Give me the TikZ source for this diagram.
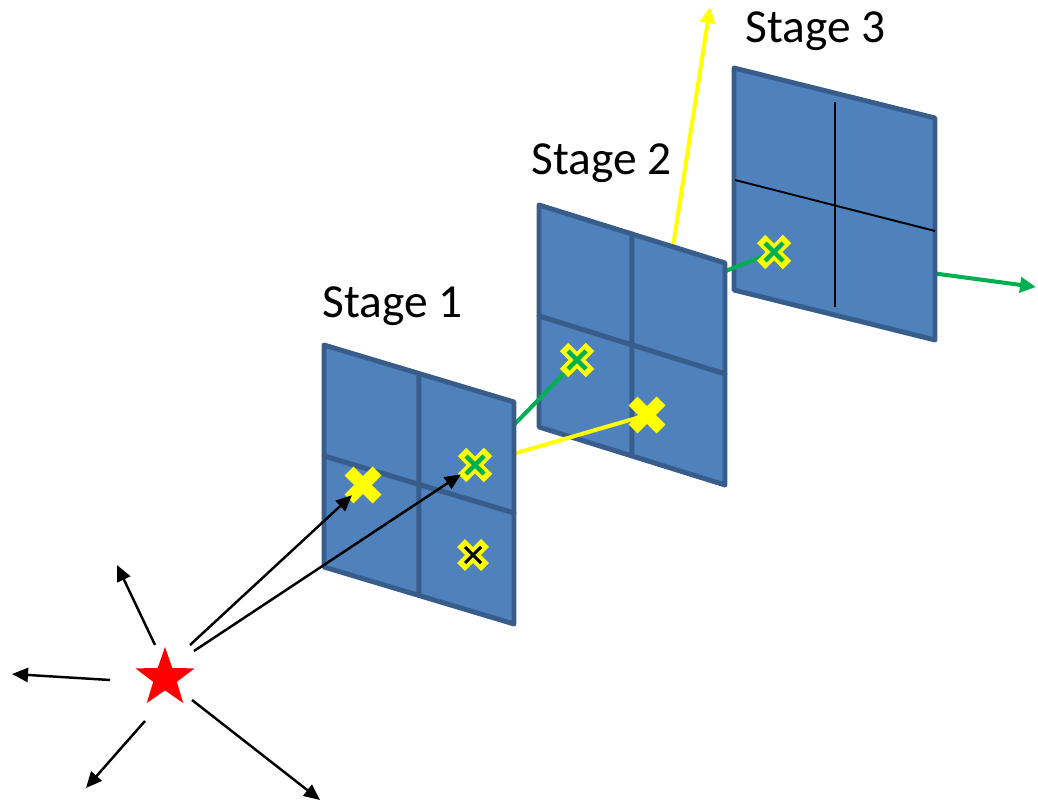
\documentclass[tikz,border=0pt]{standalone}
\usepackage{fontspec}
\setmainfont{Carlito}
\usetikzlibrary{arrows.meta,shapes.geometric}
\definecolor{panelfill}{HTML}{4F81BD}
\definecolor{paneledge}{HTML}{385D8A}
\definecolor{hitgreen}{HTML}{00B050}
\definecolor{hityellow}{HTML}{FFFF00}
\tikzset{
  tile/.style={fill=panelfill,draw=paneledge,line width=2.8pt,line join=round},
  blackarrow/.style={black,line width=1.4pt,-{Triangle[length=0.32cm,width=0.28cm]}},
  colline/.style={line width=2.3pt},
  colarrow/.style={line width=2.3pt,-{Triangle[length=0.32cm,width=0.3cm]}},
  stagelabel/.style={anchor=base west,inner sep=0pt,font=\fontsize{27}{32}\selectfont},
  plainx/.pic={\draw[hityellow,line width=0.25cm] (-14,-14)--(14,14) (-14,14)--(14,-14);},
  greenx/.pic={\draw[hityellow,line width=0.24cm] (-13,-13)--(13,13) (-13,13)--(13,-13);
               \draw[hitgreen,line width=0.09cm] (-9,-9)--(9,9) (-9,9)--(9,-9);},
  blackx/.pic={\draw[hityellow,line width=0.22cm] (-12,-12)--(12,12) (-12,12)--(12,-12);
               \draw[black,line width=0.06cm] (-8,-8)--(8,8) (-8,8)--(8,-8);}
}
\begin{document}
\begin{tikzpicture}[x=0.02cm,y=-0.02cm]
\useasboundingbox (0,0) rectangle (1038,803);
% hit positions
\coordinate (h1y) at (363,485);
\coordinate (h1g) at (475,465);
\coordinate (h1k) at (473,555);
\coordinate (h2g) at (577,360);
\coordinate (h2y) at (647,415);
\coordinate (h3g) at (774,252);
\coordinate (g2src) at (690,285);
\coordinate (yend) at (710,7);
\coordinate (gend) at (1036,287);
% stage 3 exit
\draw[colarrow,hitgreen] (h3g) -- (gend);
% stage 3 panel
\draw[tile] (734,68) -- (935,118) -- (935,340) -- (734,290) -- cycle;
\draw[black,line width=1.1pt] (835,102) -- (835,307);
\draw[black,line width=1.1pt] (735,180) -- (935,231);
\draw[colline,hitgreen] (g2src) -- (h3g);
\pic at (h3g) {greenx};
% stage 2 exit
\draw[colarrow,hityellow] (h2y) -- (yend);
% stage 2 panel
\foreach \i in {0,1} \foreach \j in {0,1} {
  \draw[tile] (539+93*\i,205+29*\i+111*\j) -- ++(93,29) -- ++(0,111) -- ++(-93,-29) -- cycle;
}
\draw[colline,hitgreen] (h1g) -- (h2g);
\draw[colline,hityellow] (h1g) -- (h2y);
\pic at (h2g) {greenx};
\pic at (h2y) {plainx};
% stage 1 panel
\foreach \i in {0,1} \foreach \j in {0,1} {
  \draw[tile] (324+95*\i,345+28.5*\i+111*\j) -- ++(95,28.5) -- ++(0,111) -- ++(-95,-28.5) -- cycle;
}
\pic at (h1y) {plainx};
\pic at (h1g) {greenx};
\pic at (h1k) {blackx};
% star and rays
\node[star,star points=5,star point ratio=2.5,fill=red,inner sep=0pt,minimum size=1.24cm] (star) at (165,678) {};
\coordinate (sa) at (155,645); \coordinate (ta) at (117,565);
\coordinate (sb) at (110,680); \coordinate (tb) at (12,674);
\coordinate (sc) at (145,721); \coordinate (tc) at (86,788);
\coordinate (sd) at (192,700); \coordinate (td) at (320,800);
\coordinate (se) at (190,645); \coordinate (sf) at (194,651);
\draw[blackarrow] (sa) -- (ta);
\draw[blackarrow] (sb) -- (tb);
\draw[blackarrow] (sc) -- (tc);
\draw[blackarrow] (sd) -- (td);
\draw[blackarrow,shorten >=0.3cm] (se) -- (h1y);
\draw[blackarrow,shorten >=0.34cm] (sf) -- (h1g);
% labels
\node[stagelabel] (l1) at (322,318) {Stage 1};
\node[stagelabel] (l2) at (531,175) {Stage 2};
\node[stagelabel] (l3) at (745,43) {Stage 3};
\end{tikzpicture}
\end{document}
